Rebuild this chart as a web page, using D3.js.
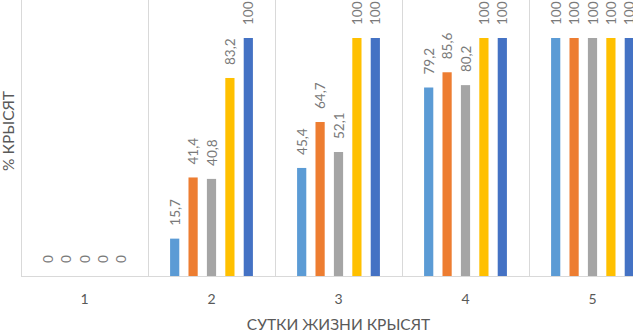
<!DOCTYPE html>
<html>
<head>
<meta charset="utf-8">
<script src="https://cdn.jsdelivr.net/npm/d3@7"></script>
<style>
  body { margin: 0; background: #fff; }
  svg { display: block; font-family: Lato, "Liberation Sans", sans-serif; }
</style>
</head>
<body>
<svg id="chart" width="633" height="332"></svg>
<script>
// сутки жизни и пять серий (% крысят)
let days = ["1", "2", "3", "4", "5"];
let seriesNames = ["s1", "s2", "s3", "s4", "s5"];
let s1 = [0, 15.7, 45.4, 79.2, 100];
let s2 = [0, 41.4, 64.7, 85.6, 100];
let s3 = [0, 40.8, 52.1, 80.2, 100];
let s4 = [0, 83.2, 100, 100, 100];
let s5 = [0, 100, 100, 100, 100];
let colors = ["#5B9BD5", "#ED7D31", "#A5A5A5", "#FFC000", "#4472C4"];

let allSeries = [s1, s2, s3, s4, s5];

let svg = d3.select("#chart");

let plotLeft = 21;
let bandW = 127;
let baseY = 276;

let x0 = d3.scaleBand()
    .domain(days)
    .range([plotLeft, plotLeft + bandW * days.length])
    .padding(0);

let x1 = d3.scaleBand()
    .domain(seriesNames)
    .range([0, x0.bandwidth()])
    .paddingInner(0.5)
    .paddingOuter(1.2);

let y = d3.scaleLinear().domain([0, 100]).range([baseY, 38]);

let color = d3.scaleOrdinal().domain(seriesNames).range(colors);

// вертикальные разделители категорий
let grid = svg.append("g");
grid.selectAll("line.sep")
    .data(days.map((d, i) => i))
    .enter().append("line")
    .attr("x1", i => x0(days[i]) + 0.5)
    .attr("x2", i => x0(days[i]) + 0.5)
    .attr("y1", 0)
    .attr("y2", baseY)
    .style("stroke", "#d9d9d9")
    .style("stroke-width", 1);
grid.append("line")
    .attr("x1", x0(days[days.length - 1]) + bandW + 0.5)
    .attr("x2", x0(days[days.length - 1]) + bandW + 0.5)
    .attr("y1", 0).attr("y2", baseY)
    .style("stroke", "#d9d9d9");

// таблица: день x серия
let rows = [];
days.forEach((d, i) => {
    seriesNames.forEach((s, j) => {
        rows.push({day: d, series: s, value: allSeries[j][i]});
    });
});

let bars = svg.append("g");
bars.selectAll("rect")
    .data(rows)
    .enter().append("rect")
    .attr("x", d => x0(d.day) + x1(d.series))
    .attr("width", x1.bandwidth())
    .attr("y", d => y(d.value))
    .attr("height", d => baseY - y(d.value))
    .style("fill", d => color(d.series));

// ось X
svg.append("line")
    .attr("x1", plotLeft).attr("x2", 633)
    .attr("y1", baseY + 0.5).attr("y2", baseY + 0.5)
    .style("stroke", "#d9d9d9");

// подписи данных
svg.append("g").selectAll("text")
    .data(rows)
    .enter().append("text")
    .attr("transform", d => {
        let cx = x0(d.day) + x1(d.series) + x1.bandwidth() / 2;
        let ty = y(d.value) - 13;
        return "translate(" + (cx + 5) + "," + ty + ") rotate(-90)";
    })
    .attr("text-anchor", "start")
    .style("font-size", "13.5px")
    .style("fill", "#7a7a7a")
    .text(d => String(d.value).replace(".", ","));

// подписи категорий
svg.append("g").selectAll("text")
    .data(days)
    .enter().append("text")
    .attr("x", d => x0(d) + x0.bandwidth() / 2)
    .attr("y", 304)
    .attr("text-anchor", "middle")
    .style("font-size", "14px")
    .style("fill", "#595959")
    .text(d => d);

// названия осей
svg.append("text")
    .attr("x", plotLeft + bandW * days.length / 2)
    .attr("y", 330)
    .attr("text-anchor", "middle")
    .style("font-size", "15.5px")
    .style("fill", "#595959")
    .text("СУТКИ ЖИЗНИ КРЫСЯТ");

svg.append("text")
    .attr("transform", "translate(14,131) rotate(-90)")
    .attr("text-anchor", "middle")
    .style("font-size", "15.5px")
    .style("fill", "#595959")
    .text("% КРЫСЯТ");
</script>
</body>
</html>
